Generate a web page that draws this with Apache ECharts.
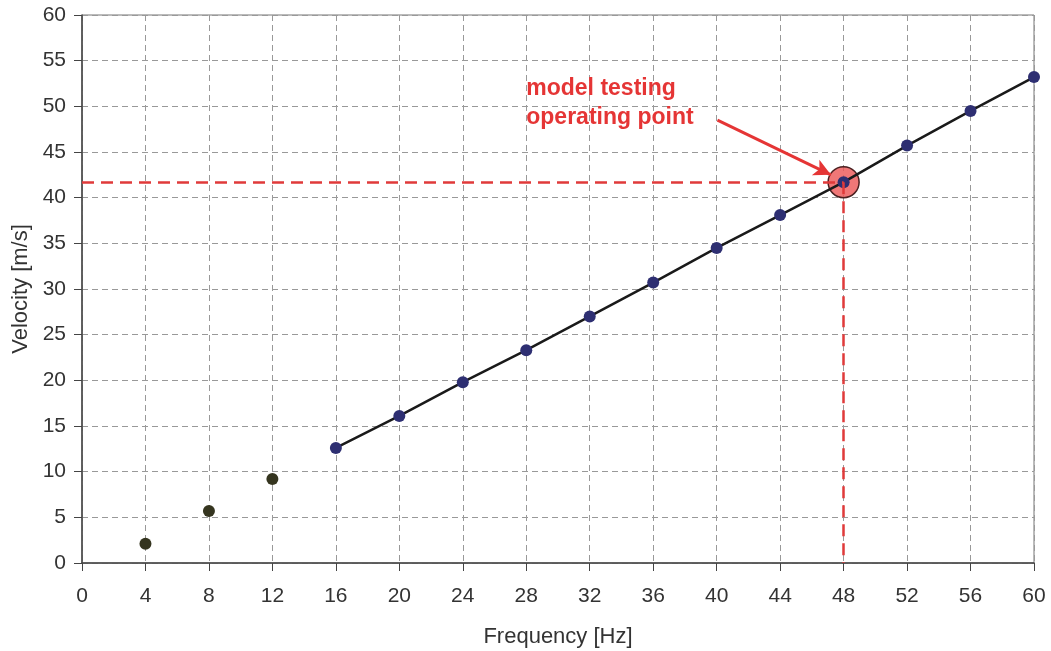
<!DOCTYPE html>
<html><head><meta charset="utf-8">
<script src="https://cdn.jsdelivr.net/npm/echarts@6/dist/echarts.min.js"></script>
<style>html,body{margin:0;padding:0;background:#fff}#c{width:1051px;height:651px}</style>
</head><body><div id="c"></div>
<script>
const lowFreq = [4, 8, 12];
const lowVel = [2.1, 5.7, 9.2];
const freq = [16, 20, 24, 28, 32, 36, 40, 44, 48, 52, 56, 60];
const vel = [12.6, 16.1, 19.8, 23.3, 27.0, 30.7, 34.5, 38.1, 41.7, 45.7, 49.5, 53.2];
const opFreq = 48;
const opVel = 41.7;
const annotation = 'model testing\noperating point';
const arrowFrom = [40.05, 48.5];
const arrowTo = [47.2, 42.5];
const textAt = [28.0, 50.4];

const chart = echarts.init(document.getElementById('c'));
const font = 'Liberation Sans, Arial, sans-serif';
chart.setOption({
  animation: false,
  grid: {left: 82, right: 17, top: 15, bottom: 88, show: true, borderColor: '#777', borderWidth: 1,
         outerBoundsMode: 'none', containLabel: false},
  xAxis: {
    type: 'value', min: 0, max: 60, interval: 4,
    name: 'Frequency [Hz]', nameLocation: 'middle', nameGap: 63,
    nameTextStyle: {fontFamily: font, fontSize: 22, color: '#333'},
    axisLine: {lineStyle: {color: '#444', width: 1.5}},
    axisTick: {show: true, length: 8, lineStyle: {color: '#444'}},
    axisLabel: {fontFamily: font, fontSize: 21, color: '#333', margin: 23},
    splitLine: {lineStyle: {type: [6, 4], color: '#999'}}
  },
  yAxis: {
    type: 'value', min: 0, max: 60, interval: 5,
    name: 'Velocity [m/s]', nameLocation: 'middle', nameGap: 48, nameRotate: 90,
    nameTextStyle: {fontFamily: font, fontSize: 22, color: '#333'},
    axisLine: {show: true, lineStyle: {color: '#444', width: 1.5}},
    axisTick: {show: true, length: 8, lineStyle: {color: '#444'}},
    axisLabel: {fontFamily: font, fontSize: 21, color: '#333', margin: 16},
    splitLine: {lineStyle: {type: [6, 4], color: '#999'}}
  },
  series: [
    {
      type: 'line', data: freq.map((f, i) => [f, vel[i]]),
      symbol: 'circle', symbolSize: 12, z: 3,
      lineStyle: {color: '#1a1a1a', width: 2.5},
      itemStyle: {color: '#2e2f72', opacity: 1},
      markLine: {
        silent: true, symbol: ['none', 'none'],
        lineStyle: {color: '#e03a3a', type: [12, 7], width: 2.5},
        label: {show: false},
        data: [
          [{coord: [0, opVel]}, {coord: [opFreq, opVel]}],
          [{coord: [opFreq, opVel]}, {coord: [opFreq, 0]}]
        ]
      }
    },
    {
      type: 'scatter', data: lowFreq.map((f, i) => [f, lowVel[i]]),
      symbolSize: 12, itemStyle: {color: '#35351f', opacity: 1}
    },
    {
      type: 'scatter', data: [[opFreq, opVel]], symbolSize: 31, z: 2,
      itemStyle: {color: 'rgba(236,85,85,0.8)', borderColor: '#4a2020', borderWidth: 1.5, opacity: 1},
      markLine: {
        silent: true, symbol: ['none', 'arrow'], symbolSize: [13, 17],
        lineStyle: {color: '#e53535', type: 'solid', width: 3},
        label: {show: false},
        data: [[{coord: arrowFrom}, {coord: arrowTo}]]
      },
      markPoint: {
        symbol: 'circle', symbolSize: 0,
        data: [{coord: textAt}],
        label: {show: true, formatter: annotation, position: 'right', distance: 0,
          fontFamily: font, fontSize: 23, fontWeight: 'bold', color: '#e53535', lineHeight: 29, align: 'left'}
      }
    }
  ]
});
</script></body></html>
